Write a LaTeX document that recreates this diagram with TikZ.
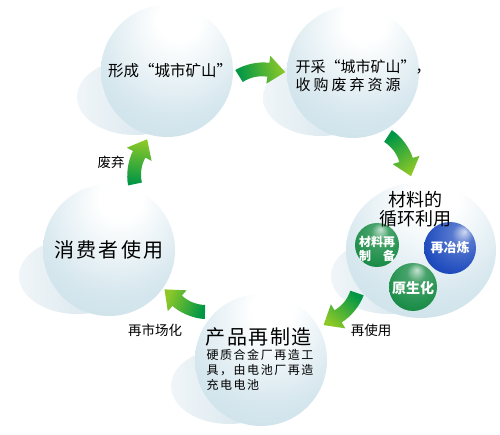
\documentclass[tikz,border=0pt]{standalone}
\usepackage{fontspec}
\setmainfont{Noto Sans CJK SC}
\usepackage{tikz}
\usetikzlibrary{positioning}

\definecolor{sphmid}{RGB}{214,231,238}
\definecolor{sphrim}{RGB}{158,195,210}
\definecolor{shadownear}{RGB}{205,225,234}
\definecolor{shadowfar}{RGB}{240,245,248}
\definecolor{arrowdark}{RGB}{0,150,70}
\definecolor{arrowlight}{RGB}{140,200,40}
\definecolor{ballgreen}{RGB}{25,140,70}
\definecolor{ballblue}{RGB}{30,75,190}

\pgfdeclareradialshading{glass}{\pgfpoint{5bp}{22bp}}{color(0bp)=(white); color(8bp)=(white); color(30bp)=(sphmid); color(52bp)=(sphmid!65!sphrim); color(72bp)=(sphrim)}
\pgfdeclareradialshading{greenball}{\pgfpoint{4bp}{18bp}}{color(0bp)=(ballgreen!25!white); color(10bp)=(ballgreen!80!white); color(32bp)=(ballgreen); color(60bp)=(ballgreen!55!black)}
\pgfdeclareradialshading{blueball}{\pgfpoint{14bp}{16bp}}{color(0bp)=(ballblue!20!white); color(10bp)=(ballblue!75!white); color(32bp)=(ballblue); color(62bp)=(ballblue!50!black)}

\newcommand{\cyclearrow}[3]{%
  \pgfmathsetmacro\shadeang{90+#3}
  \begin{scope}[shift={(#1,#2)},rotate=#3]
    \shade[left color=arrowdark,right color=arrowlight,shading angle=\shadeang] (-2.4,6.6) .. controls (8,10.3) and (22.1,10.3) .. (32.4,6.6) -- (34.8,13.2) -- (46,-5.8) -- (25.2,-13.2) -- (27.6,-6.6) .. controls (19.1,-3.5) and (10.9,-3.5) .. (2.4,-6.6) -- cycle;
  \end{scope}}

\begin{document}
\begin{tikzpicture}[line cap=round,line join=round, x=1pt,y=1pt]
\useasboundingbox (0,0) rectangle (500,434);
\coordinate (s1) at (167,363);
\coordinate (s2) at (353,362);
\coordinate (s3) at (421,184);
\coordinate (s4) at (109,184);
\coordinate (s5) at (261,74);
\foreach \s in {s1,s2,s3,s4,s5}
  \shade[left color=shadowfar,right color=shadownear] ([shift={(-32,-26)}]\s) ellipse (58 and 38);
\foreach \s in {s1,s2,s4,s5}
  \shade[shading=glass] (\s) circle (66);
\shade[shading=glass] (s3) ellipse (75 and 68);
\shade[shading=greenball] (377,189) circle (22);
\shade[shading=blueball] (450,186) circle (26);
\shade[shading=greenball] (413,147) circle (24);
\cyclearrow{239}{358}{12}
\cyclearrow{388}{298}{-53}
\cyclearrow{357}{141}{-129}
\cyclearrow{205}{122}{158}
\cyclearrow{135}{250}{82}
\node[font=\fontsize{15.5}{18}\selectfont] (t1) at (170,363) {形成“城市矿山”};
\node[anchor=west,align=left,font=\fontsize{15}{18}\selectfont] (t2) at (292,358) {开采“城市矿山”，\\\addfontfeature{LetterSpace=20}收购废弃资源};
\node[align=center,font=\fontsize{18}{19.5}\selectfont] (t3) at (415,225) {材料的\\循环利用};
\node[font=\fontsize{20}{24}\selectfont\addfontfeature{LetterSpace=12}] (t4) at (109,184) {消费者使用};
\node[anchor=west,font=\fontsize{20}{24}\selectfont\addfontfeature{LetterSpace=8}] (t5) at (202,97) {产品再制造};
\node[anchor=west,align=left,font=\fontsize{12}{15}\selectfont\addfontfeature{LetterSpace=13}] (t6) at (203,64) {硬质合金厂再造工\\具，由电池厂再造\\充电电池};
\node[text=white,align=center,font=\fontsize{12}{14.5}\selectfont\bfseries] (b1) at (377,185) {材料再\\制\hspace{1em}备};
\node[text=white,font=\fontsize{13}{15}\selectfont\bfseries] (b2) at (450,186) {再冶炼};
\node[text=white,font=\fontsize{14}{16}\selectfont\bfseries] (b3) at (413,146) {原生化};
\node[font=\fontsize{13.5}{16}\selectfont] (l1) at (111,272) {废弃};
\node[font=\fontsize{13.5}{16}\selectfont] (l2) at (155,104) {再市场化};
\node[font=\fontsize{13.5}{16}\selectfont] (l3) at (371,104) {再使用};
\end{tikzpicture}
\end{document}
